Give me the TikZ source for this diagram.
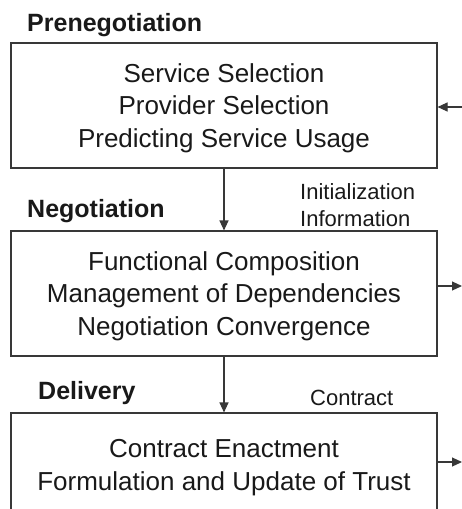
\documentclass[tikz,border=0pt]{standalone}
\usepackage{fontspec}
\setmainfont{Liberation Sans}
\usetikzlibrary{arrows.meta}
\colorlet{linecol}{black!78}
\colorlet{textcol}{black!90}

\begin{document}
\begin{tikzpicture}[x=1pt, y=-1pt,
		phasebox/.style={draw=linecol, line width=1.1pt, minimum width=426pt, align=center, inner sep=0pt, text depth=0pt, text=textcol, font=\fontsize{26}{32.5}\selectfont},
		phaselbl/.style={anchor=base west, inner sep=0pt, text=textcol, font=\fontsize{25}{30}\selectfont\bfseries},
		flowlbl/.style={inner sep=0pt, align=left, text=textcol, font=\fontsize{22}{27}\selectfont},
		flow/.style={draw=linecol, line width=1.1pt, -{Triangle[length=10pt,width=9pt]}}]
		\useasboundingbox (0, 0) rectangle (462, 509);
		\clip (0, 0) rectangle (462, 509);
		\coordinate (inpre) at (462, 107);
		\coordinate (outneg) at (462, 286);
		\coordinate (outdel) at (462, 462);
		\node[phasebox, minimum height=125pt] (pre) at (224, 105.5) {Service Selection\\Provider Selection\\Predicting Service Usage};
		\node[phasebox, minimum height=125pt] (neg) at (224, 293.5) {Functional Composition\\Management of Dependencies\\Negotiation Convergence};
		\node[phasebox, minimum height=104pt] (del) at (224, 465) {Contract Enactment\\Formulation and Update of Trust};
		\node[phaselbl] (prelbl) at (27, 31) {Prenegotiation};
		\node[phaselbl] (neglbl) at (27, 217) {Negotiation};
		\node[phaselbl] (dellbl) at (38, 399) {Delivery};
		\node[flowlbl, anchor=west] (initinfo) at (300, 205) {Initialization\\Information};
		\node[flowlbl, anchor=base west] (contract) at (310, 405) {Contract};
		\draw[flow] (pre) -- (neg);
		\draw[flow] (neg) -- (del);
		\draw[flow] (inpre) -- (inpre -| pre.east);
		\draw[flow] (outneg -| neg.east) -- (outneg);
		\draw[flow] (outdel -| del.east) -- (outdel);
	\end{tikzpicture}
\end{document}
